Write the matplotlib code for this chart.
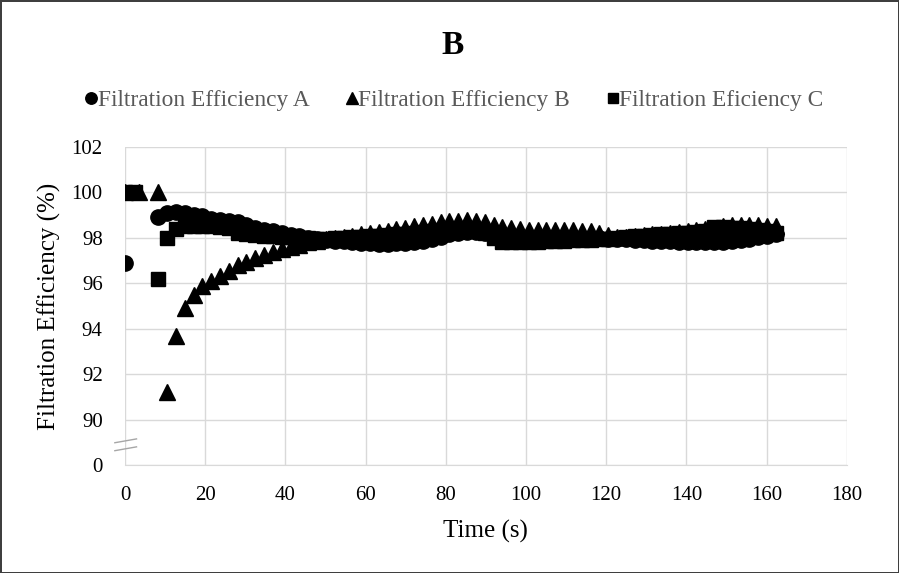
import matplotlib
matplotlib.use("Agg")
import matplotlib.pyplot as plt

plt.rcParams['font.family'] = ['Liberation Serif', 'DejaVu Serif']

# ---- data ----
grid_time = [8.3, 10.5, 12.7, 14.9, 17.1, 19.3, 21.5, 23.7, 25.9, 28.1,
             30.3, 32.5, 34.7, 36.9, 39.1, 41.3, 43.5, 45.7, 47.9, 50.1,
             52.3, 54.5, 56.7, 58.9, 61.1, 63.3, 65.5, 67.7, 69.9, 72.1,
             74.3, 76.5, 78.7, 80.9, 83.1, 85.3, 87.5, 89.7, 91.9, 94.1,
             96.3, 98.5, 100.7, 102.9, 105.1, 107.3, 109.5, 111.7, 113.9, 116.1,
             118.3, 120.5, 122.7, 124.9, 127.1, 129.3, 131.5, 133.7, 135.9, 138.1,
             140.3, 142.5, 144.7, 146.9, 149.1, 151.3, 153.5, 155.7, 157.9, 160.1,
             162.3]

time_a = [0.0] + grid_time
eff_a = [96.9,
         98.9, 99.1, 99.15, 99.1, 99.0, 98.95, 98.85, 98.8, 98.75, 98.7,
         98.55, 98.45, 98.35, 98.28, 98.2, 98.12, 98.06, 98.0, 97.96, 97.92,
         97.88, 97.84, 97.8, 97.78, 97.76, 97.75, 97.75, 97.76, 97.78, 97.82,
         97.88, 97.96, 98.05, 98.15, 98.22, 98.26, 98.25, 98.2, 98.12, 98.05,
         98.0, 97.98, 97.96, 97.96, 97.97, 97.98, 97.98, 97.98, 97.98, 97.98,
         97.98, 97.97, 97.95, 97.94, 97.92, 97.9, 97.88, 97.86, 97.84, 97.82,
         97.8, 97.8, 97.8, 97.8, 97.82, 97.85, 97.9, 97.96, 98.02, 98.1,
         98.18]

time_b = [0.0, 3.6] + grid_time
eff_b = [100.0, 100.0,
         100.0, 91.2, 93.7, 94.9, 95.5, 95.9, 96.1, 96.3, 96.55, 96.8,
         96.95, 97.1, 97.25, 97.38, 97.5, 97.6, 97.7, 97.8, 97.88, 97.95,
         98.0, 98.05, 98.1, 98.15, 98.2, 98.25, 98.3, 98.37, 98.45, 98.52,
         98.58, 98.63, 98.68, 98.72, 98.76, 98.78, 98.76, 98.68, 98.58, 98.48,
         98.42, 98.38, 98.36, 98.35, 98.35, 98.35, 98.35, 98.34, 98.32, 98.28,
         98.22, 98.12, 98.04, 98.05, 98.08, 98.12, 98.15, 98.18, 98.22, 98.26,
         98.3, 98.35, 98.4, 98.45, 98.5, 98.55, 98.56, 98.56, 98.55, 98.54,
         98.5]

time_c = [0.0, 2.4] + grid_time
eff_c = [100.0, 100.0,
         96.2, 98.0, 98.4, 98.5, 98.52, 98.52, 98.5, 98.47, 98.45, 98.2,
         98.15, 98.12, 98.1, 98.08, 98.05, 98.02, 98.0, 97.98, 97.97, 97.97,
         97.98, 98.0, 98.02, 98.05, 98.07, 98.1, 98.12, 98.15, 98.18, 98.22,
         98.26, 98.3, 98.33, 98.36, 98.38, 98.38, 98.35, 98.2, 98.0, 97.82,
         97.8, 97.8, 97.8, 97.82, 97.84, 97.86, 97.88, 97.9, 97.9, 97.92,
         97.94, 97.96, 98.0, 98.04, 98.08, 98.1, 98.12, 98.15, 98.18, 98.2,
         98.23, 98.26, 98.3, 98.48, 98.48, 98.45, 98.42, 98.4, 98.35, 98.3,
         98.2]

x_ticks = [0, 20, 40, 60, 80, 100, 120, 140, 160, 180]
y_ticks = [88, 90, 92, 94, 96, 98, 100, 102]
y_tick_labels = ['0', '90', '92', '94', '96', '98', '100', '102']

# ---- figure ----
fig = plt.figure(figsize=(8.99, 5.73), dpi=100)
fig.patch.set_edgecolor('#3f3f3f')
fig.patch.set_linewidth(2)
ax = fig.add_axes([0.139, 0.1885, 0.803, 0.555])

ax.plot(time_a, eff_a, 'o', color='black', markersize=11, label='Filtration Efficiency A')
ax.plot(time_b, eff_b, '^', color='black', markersize=11, label='Filtration Efficiency B')
ax.plot(time_c, eff_c, 's', color='black', markersize=10, label='Filtration Eficiency C')

ax.set_xlim(0, 180)
ax.set_ylim(88, 102)
ax.set_xticks(x_ticks)
ax.set_yticks(y_ticks)
ax.set_yticklabels(y_tick_labels)
ax.tick_params(length=0, labelsize=15)
ax.tick_params(axis='x', pad=15)
ax.tick_params(axis='y', pad=16)
ax.grid(True, color='#d9d9d9', linewidth=1)
ax.set_axisbelow(True)
for side in ['top', 'right', 'left']:
    ax.spines[side].set_visible(False)
ax.spines['bottom'].set_color('#d9d9d9')

# axis break marks
for yb in [0.075, 0.05]:
    ax.plot([-0.014, 0.016], [yb - 0.005, yb + 0.007], color='#a6a6a6',
            linewidth=1, transform=ax.transAxes, clip_on=False)

ax.set_xlabel('Time (s)', fontsize=18, labelpad=11)
ax.set_ylabel('Filtration Efficiency (%)', fontsize=18, labelpad=8)

fig.text(0.503, 0.921, 'B', fontsize=24, fontweight='bold', ha='center', va='center')

leg = fig.legend(loc='center', bbox_to_anchor=(0.505, 0.825), ncol=3, frameon=False,
                 fontsize=16.8, handletextpad=0.0, columnspacing=1.55, markerscale=0.75,
                 handlelength=0.55)
for txt in leg.get_texts():
    txt.set_color('#595959')

fig.savefig('out.png', dpi=100)
